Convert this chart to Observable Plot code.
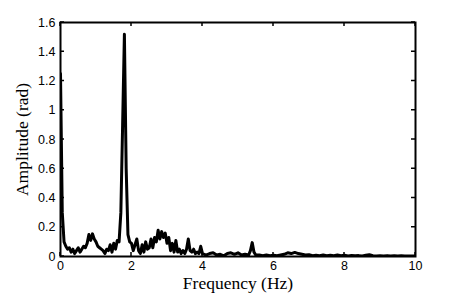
<!DOCTYPE html>
<html>
<head>
<meta charset="utf-8">
<script src="https://cdn.jsdelivr.net/npm/d3@7"></script>
<script src="https://cdn.jsdelivr.net/npm/@observablehq/plot@0.6"></script>
<style>
  html, body { margin: 0; padding: 0; background: #fff; }
  #chart svg { display: block; }
</style>
</head>
<body>
<div id="chart"></div>
<script>
// Frequency (Hz)
const freq = [
  0.00,0.05,0.10,0.15,0.20,0.25,0.30,0.35,0.40,0.45,
  0.50,0.55,0.60,0.65,0.70,0.75,0.80,0.85,0.90,0.95,
  1.00,1.05,1.10,1.15,1.20,1.25,1.30,1.35,1.40,1.45,
  1.50,1.55,1.60,1.65,1.70,1.75,1.80,1.85,1.90,1.95,
  2.00,2.05,2.10,2.15,2.20,2.25,2.30,2.35,2.40,2.45,
  2.50,2.55,2.60,2.65,2.70,2.75,2.80,2.85,2.90,2.95,
  3.00,3.05,3.10,3.15,3.20,3.25,3.30,3.35,3.40,3.45,
  3.50,3.55,3.60,3.65,3.70,3.75,3.80,3.85,3.90,3.95,
  4.00,4.10,4.20,4.30,4.40,4.50,4.60,4.70,4.80,4.90,
  5.00,5.10,5.20,5.30,5.35,5.40,5.45,5.50,5.60,5.70,
  5.80,5.90,6.00,6.10,6.20,6.30,6.40,6.50,6.60,6.70,
  6.80,6.90,7.00,7.10,7.20,7.30,7.40,7.50,7.60,7.70,
  7.80,7.90,8.00,8.10,8.20,8.30,8.40,8.50,8.60,8.70,
  8.80,8.90,9.00,9.10,9.20,9.30,9.40,9.50,9.60,9.70,
  9.80,9.90,10.00
];
// Amplitude (rad)
const amp = [
  1.25,0.30,0.10,0.07,0.05,0.06,0.03,0.05,0.02,0.04,
  0.06,0.03,0.05,0.07,0.06,0.09,0.15,0.11,0.155,0.12,
  0.10,0.07,0.06,0.05,0.04,0.02,0.05,0.04,0.08,0.03,
  0.09,0.05,0.11,0.10,0.30,0.90,1.52,0.60,0.15,0.10,
  0.09,0.04,0.08,0.12,0.04,0.02,0.08,0.03,0.10,0.05,
  0.06,0.12,0.06,0.13,0.10,0.18,0.12,0.17,0.13,0.16,
  0.09,0.13,0.04,0.09,0.03,0.11,0.03,0.05,0.02,0.04,
  0.02,0.05,0.12,0.04,0.03,0.05,0.02,0.03,0.02,0.07,
  0.02,0.01,0.02,0.025,0.01,0.015,0.005,0.02,0.025,0.015,
  0.025,0.01,0.015,0.01,0.04,0.095,0.03,0.01,0.01,0.005,
  0.01,0.005,0.008,0.005,0.01,0.015,0.025,0.02,0.028,0.02,
  0.015,0.01,0.012,0.005,0.008,0.006,0.01,0.005,0.008,0.006,
  0.01,0.005,0.008,0.004,0.007,0.005,0.006,0.004,0.008,0.012,
  0.005,0.004,0.005,0.004,0.006,0.004,0.005,0.003,0.005,0.004,
  0.004,0.003,0.003
];
const xTicks = [0, 2, 4, 6, 8, 10];
const xTickLabels = ["0", "2", "4", "6", "8", "10"];
const yTicks = [0, 0.2, 0.4, 0.6, 0.8, 1, 1.2, 1.4, 1.6];
const yTickLabels = ["0", "0.2", "0.4", "0.6", "0.8", "1", "1.2", "1.4", "1.6"];
const xLabel = "Frequency (Hz)";
const yLabel = "Amplitude (rad)";

const data = freq.map((f, i) => ({f, a: amp[i]}));
const sans = "Arial, 'Liberation Sans', Helvetica, sans-serif";
const serif = "'Times New Roman', 'Liberation Serif', Times, serif";

const chart = Plot.plot({
  width: 458,
  height: 294,
  marginLeft: 60,
  marginRight: 43,
  marginTop: 22,
  marginBottom: 38,
  style: {background: "#fff", color: "#000"},
  x: {domain: [0, 10]},
  y: {domain: [0, 1.6]},
  marks: [
    Plot.line(data, {x: "f", y: "a", stroke: "#000", strokeWidth: 3, strokeLinejoin: "round", clip: true}),
    Plot.frame({stroke: "#000", strokeWidth: 2}),
    Plot.axisX(xTicks, {tickSize: 0, tickPadding: 5, fontSize: 12.5, fontFamily: sans, fill: "#000", label: null,
      tickFormat: (d) => xTickLabels[xTicks.indexOf(d)]}),
    Plot.axisY(yTicks, {tickSize: 0, tickPadding: 5, fontSize: 12.5, fontFamily: sans, fill: "#000", label: null,
      tickFormat: (d) => yTickLabels[yTicks.indexOf(d)]}),
    Plot.text([xLabel], {frameAnchor: "bottom", dy: 32, fontSize: 17.5, fontFamily: serif, fill: "#000", textAnchor: "middle"}),
    Plot.text([yLabel], {frameAnchor: "left", dx: -38, rotate: -90, fontSize: 17.5, fontFamily: serif, fill: "#000", textAnchor: "middle"})
  ]
});

// inward ticks on all four sides (MATLAB-style box), positioned with the chart's scales
const sx = chart.scale("x"), sy = chart.scale("y");
const [x0, x1] = sx.range, [y0, y1] = sy.range; // y0 bottom, y1 top
const tl = 4;
const g = d3.select(chart).append("g").attr("stroke", "#000").attr("stroke-width", 1.5);
for (const t of xTicks) {
  const px = sx.apply(t);
  g.append("line").attr("x1", px).attr("x2", px).attr("y1", y0).attr("y2", y0 - tl);
  g.append("line").attr("x1", px).attr("x2", px).attr("y1", y1).attr("y2", y1 + tl);
}
for (const t of yTicks) {
  const py = sy.apply(t);
  g.append("line").attr("y1", py).attr("y2", py).attr("x1", x0).attr("x2", x0 + tl);
  g.append("line").attr("y1", py).attr("y2", py).attr("x1", x1).attr("x2", x1 - tl);
}
document.getElementById("chart").appendChild(chart);
</script>
</body>
</html>
